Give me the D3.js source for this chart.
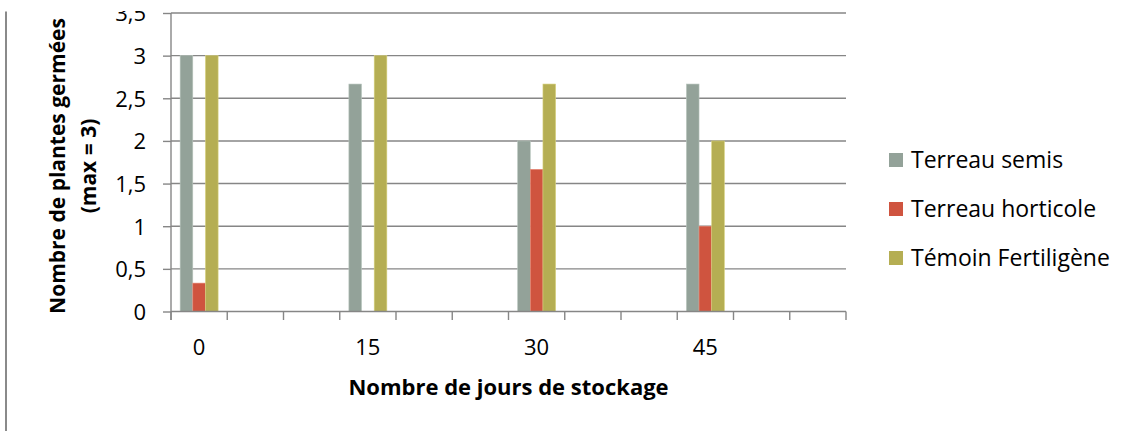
<!DOCTYPE html>
<html>
<head>
<meta charset="utf-8">
<script src="https://cdn.jsdelivr.net/npm/d3@7"></script>
<style>
  html, body { margin: 0; padding: 0; background: #fff; }
  svg { display: block; }
  text { font-family: "Open Sans", "Noto Sans", sans-serif; fill: #000; }
</style>
</head>
<body>
<svg id="chart" width="1130" height="431"></svg>
<script>
// ---- data ----
const categories = ["0", "5", "10", "15", "20", "25", "30", "35", "40", "45", "50", "55"];
const tickLabels = ["0", "15", "30", "45"];
const days = ["0", "15", "30", "45"];
const seriesNames = ["Terreau semis", "Terreau horticole", "Témoin Fertiligène"];
const terreauSemis = [3, 2.667, 2, 2.667];
const terreauHorticole = [0.333, 0, 1.667, 1];
const temoinFertiligene = [3, 3, 2.667, 2];
const yTicks = [0, 0.5, 1, 1.5, 2, 2.5, 3, 3.5];
const colors = ["#93A299", "#CF543F", "#B5AE53"];
const edgeColors = ["#b9c6be", "#e88a78", "#d8d27e"];
const yTitleLines = ["Nombre de plantes germées", "(max = 3)"];
const xTitle = "Nombre de jours de stockage";

const seriesValues = [terreauSemis, terreauHorticole, temoinFertiligene];

// ---- layout ----
const svg = d3.select("#chart");
const pLeft = 171, pRight = 846, pTop = 13, pBottom = 311.5;
const gridColor = "#868686";

svg.append("defs").append("clipPath").attr("id", "clip")
  .append("rect").attr("x", 0).attr("y", 11).attr("width", 1130).attr("height", 420);

const root = svg.append("g").attr("clip-path", "url(#clip)");

// left frame line
root.append("line").attr("x1", 6).attr("x2", 6).attr("y1", 11.5).attr("y2", 431)
  .attr("stroke", "#8a8a8a").attr("stroke-width", 2);

const x0 = d3.scaleBand().domain(categories).range([pLeft, pRight]).padding(0);
const bw = x0.bandwidth();
const groupW = bw * 0.675;
const x1 = d3.scaleBand().domain(seriesNames).range([(bw - groupW) / 2, (bw + groupW) / 2]).padding(0);
const y = d3.scaleLinear().domain([0, 3.5]).range([pBottom, pTop]);

// gridlines
root.append("g").selectAll("line").data(yTicks.filter(d => d > 0)).join("line")
  .attr("x1", pLeft).attr("x2", pRight)
  .attr("y1", d => y(d)).attr("y2", d => y(d))
  .attr("stroke", gridColor).attr("stroke-width", 1.4);

// y axis
const yAxis = d3.axisLeft(y).tickValues(yTicks).tickSize(8).tickPadding(17)
  .tickFormat(d => String(d).replace(".", ","));
const gy = root.append("g").attr("transform", `translate(${pLeft},0)`).call(yAxis);
gy.select(".domain").attr("stroke", gridColor).attr("stroke-width", 1.4).attr("d", `M0,${pTop}V${pBottom + 8.5}`);
gy.selectAll(".tick line").attr("stroke", gridColor).attr("stroke-width", 1.4);
gy.selectAll(".tick text").attr("font-size", 22).attr("font-family", "'Open Sans', sans-serif")
  .attr("dy", "0.36em").attr("fill", "#000");

// bars
const bars = root.append("g");
days.forEach((day, i) => {
  const g = bars.append("g").attr("transform", `translate(${x0(day)},0)`);
  g.selectAll("rect").data(seriesNames.map((s, k) => ({s, k, v: seriesValues[k][i]}))).join("rect")
    .attr("x", d => x1(d.s))
    .attr("width", x1.bandwidth())
    .attr("y", d => y(d.v))
    .attr("height", d => y(0) - y(d.v))
    .attr("fill", d => colors[d.k])
    .attr("stroke", d => edgeColors[d.k]).attr("stroke-width", 0.6);
});

// x axis
const xTickPos = d3.range(categories.length + 1).map(i => pLeft + i * bw);
const gx = root.append("g");
gx.append("line").attr("x1", pLeft).attr("x2", pRight).attr("y1", pBottom).attr("y2", pBottom)
  .attr("stroke", gridColor).attr("stroke-width", 1.4);
gx.selectAll("line.tk").data(xTickPos).join("line").attr("class", "tk")
  .attr("x1", d => d).attr("x2", d => d).attr("y1", pBottom).attr("y2", pBottom + 8.5)
  .attr("stroke", gridColor).attr("stroke-width", 1.4);
gx.selectAll("text").data(tickLabels).join("text")
  .attr("x", d => x0(d) + bw / 2).attr("y", 355)
  .attr("text-anchor", "middle").attr("font-size", 22).text(d => d);

// axis titles
root.append("text").attr("x", (pLeft + pRight) / 2).attr("y", 395)
  .attr("text-anchor", "middle").attr("font-size", 22).attr("font-weight", "bold").text(xTitle);

const yt = root.append("text").attr("transform", "translate(0,166) rotate(-90)")
  .attr("text-anchor", "middle").attr("font-size", 21).attr("font-weight", "bold");
yt.selectAll("tspan").data(yTitleLines).join("tspan")
  .attr("x", 0).attr("y", (d, i) => i === 0 ? 65 : 96).text(d => d);

// legend
const lg = root.append("g");
const legY = [160, 209, 258];
seriesNames.forEach((s, k) => {
  lg.append("rect").attr("x", 889).attr("y", legY[k] - 7).attr("width", 14).attr("height", 14)
    .attr("fill", colors[k]);
  lg.append("text").attr("x", 911).attr("y", legY[k] + 7.5).attr("font-size", 23).text(s);
});
</script>
</body>
</html>
